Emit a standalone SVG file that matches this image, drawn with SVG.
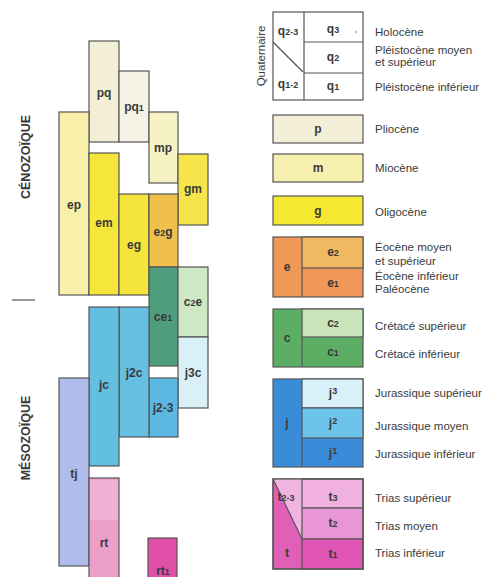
<svg xmlns="http://www.w3.org/2000/svg" width="491" height="577" viewBox="0 0 491 577">
<style>
.b{stroke:#555;stroke-width:1.2}
.l{font-family:"Liberation Sans",Arial,sans-serif;font-weight:bold;font-size:12px;fill:#3a3a3a;text-anchor:middle}
.s{font-size:9px}
.t{font-family:"Liberation Sans",Arial,sans-serif;font-size:11.5px;fill:#3a3a3a}
.era{font-family:"Liberation Sans",Arial,sans-serif;font-weight:bold;font-size:12.5px;fill:#3a3a3a;text-anchor:middle;dominant-baseline:central}
.ln{stroke:#555;stroke-width:1.2;fill:none}
</style>
<rect width="491" height="577" fill="#ffffff"/>
<text class="era" transform="translate(26,157) rotate(-90)">CÉNOZOÏQUE</text>
<text class="era" transform="translate(26,438) rotate(-90)">MÉSOZOÏQUE</text>
<line x1="12" y1="300" x2="35" y2="300" stroke="#777" stroke-width="1.5"/>
<g id="pq"><rect class="b" x="89" y="41" width="30" height="101" fill="#f2efd6"/><text class="l" x="104" y="97">pq</text></g>
<g id="pq1"><rect class="b" x="119" y="71" width="30" height="71" fill="#f5f3e6"/><text class="l" x="134" y="111">pq<tspan class="s">1</tspan></text></g>
<g id="mp"><rect class="b" x="149" y="112" width="29" height="71" fill="#f7f2c4"/><text class="l" x="163" y="152">mp</text></g>
<g id="ep"><rect class="b" x="59" y="112" width="30" height="183" fill="#f8f0aa"/><text class="l" x="74" y="209">ep</text></g>
<g id="em"><rect class="b" x="89" y="153" width="30" height="142" fill="#f6e53a"/><text class="l" x="104" y="227">em</text></g>
<g id="gm"><rect class="b" x="178" y="154" width="30" height="71" fill="#f5e54a"/><text class="l" x="193" y="193">gm</text></g>
<g id="eg"><rect class="b" x="119" y="194" width="30" height="101" fill="#f5e43c"/><text class="l" x="134" y="249">eg</text></g>
<g id="e2g"><rect class="b" x="149" y="194" width="29" height="73" fill="#f0c04c"/><text class="l" x="163" y="236">e<tspan class="s">2</tspan>g</text></g>
<g id="ce1"><rect class="b" x="149" y="267" width="29" height="99" fill="#4e9d7c"/><text class="l" x="163" y="321">ce<tspan class="s">1</tspan></text></g>
<g id="c2e"><rect class="b" x="178" y="267" width="30" height="70" fill="#cfe8c4"/><text class="l" x="193" y="306">c<tspan class="s">2</tspan>e</text></g>
<g id="j3c"><rect class="b" x="178" y="337" width="30" height="71" fill="#d8f0f6"/><text class="l" x="193" y="377">j3c</text></g>
<g id="j2-3"><rect class="b" x="149" y="378" width="29" height="59" fill="#5ab8e2"/><text class="l" x="163" y="412">j2-3</text></g>
<g id="j2c"><rect class="b" x="119" y="307" width="30" height="130" fill="#64bfe0"/><text class="l" x="134" y="377">j2c</text></g>
<g id="jc"><rect class="b" x="89" y="307" width="30" height="159" fill="#62bfe0"/><text class="l" x="104" y="389">jc</text></g>
<g id="tj"><rect class="b" x="59" y="378" width="30" height="188" fill="#b0bcec"/><text class="l" x="74" y="478">tj</text></g>
<g id="rt"><rect class="b" x="89" y="478" width="30" height="104" fill="#eba0cc"/><rect x="90" y="480" width="28" height="40" fill="#f0b8d8" opacity="0.7"/><text class="l" x="104" y="547">rt</text></g>
<g id="rt1"><rect class="b" x="148" y="538" width="29" height="44" fill="#e050a8"/><text class="l" x="163" y="575">rt<tspan class="s">1</tspan></text></g>

<g id="legend-q">
<rect class="b" x="273" y="12" width="90" height="88" fill="#ffffff"/>
<line class="ln" x1="304" y1="12" x2="304" y2="100"/>
<line class="ln" x1="304" y1="42" x2="363" y2="42"/>
<line class="ln" x1="304" y1="73" x2="363" y2="73"/>
<line class="ln" x1="273" y1="42" x2="303" y2="72"/>
<text class="l" x="288" y="35">q<tspan class="s">2-3</tspan></text>
<text class="l" x="288" y="88">q<tspan class="s">1-2</tspan></text>
<text class="l" x="333" y="33">q<tspan class="s">3</tspan></text>
<circle cx="356" cy="32" r="0.8" fill="#666"/>
<text class="l" x="333" y="61">q<tspan class="s">2</tspan></text>
<text class="l" x="333" y="90">q<tspan class="s">1</tspan></text>
<text class="t" text-anchor="middle" dominant-baseline="central" transform="translate(261,56) rotate(-90)">Quaternaire</text>
<text class="t" x="375" y="36">Holocène</text>
<text class="t" x="375" y="54">Pléistocène moyen</text>
<text class="t" x="375" y="66">et supérieur</text>
<text class="t" x="375" y="91">Pléistocène inférieur</text>
</g>
<g id="legend-p"><rect class="b" x="273" y="115" width="90" height="28" fill="#f4efd8"/><text class="l" x="318" y="133">p</text><text class="t" x="375" y="133">Pliocène</text></g>
<g id="legend-m"><rect class="b" x="273" y="154" width="90" height="28" fill="#f8f0b0"/><text class="l" x="318" y="172">m</text><text class="t" x="375" y="172">Miocène</text></g>
<g id="legend-g"><rect class="b" x="273" y="196" width="90" height="29" fill="#f6e830"/><text class="l" x="318" y="215">g</text><text class="t" x="375" y="216">Oligocène</text></g>
<g id="legend-e">
<rect class="b" x="273" y="237" width="90" height="60" fill="#f09858"/>
<rect class="b" x="302" y="237" width="61" height="31" fill="#f0b860"/>
<line class="ln" x1="302" y1="268" x2="302" y2="297"/>
<text class="l" x="287" y="271">e</text>
<text class="l" x="333" y="256">e<tspan class="s">2</tspan></text>
<text class="l" x="333" y="287">e<tspan class="s">1</tspan></text>
<text class="t" x="375" y="251">Éocène moyen</text>
<text class="t" x="375" y="265">et supérieur</text>
<text class="t" x="375" y="280">Éocène inférieur</text>
<text class="t" x="375" y="293">Paléocène</text>
</g>
<g id="legend-c">
<rect class="b" x="273" y="309" width="90" height="58" fill="#5cae64"/>
<rect class="b" x="302" y="309" width="61" height="28" fill="#c8e4b8"/>
<line class="ln" x1="302" y1="337" x2="302" y2="367"/>
<text class="l" x="287" y="342">c</text>
<text class="l" x="333" y="327">c<tspan class="s">2</tspan></text>
<text class="l" x="333" y="356">c<tspan class="s">1</tspan></text>
<text class="t" x="375" y="330">Crétacé supérieur</text>
<text class="t" x="375" y="358">Crétacé inférieur</text>
</g>
<g id="legend-j">
<rect class="b" x="273" y="379" width="90" height="88" fill="#3a8cd8"/>
<rect class="b" x="302" y="379" width="61" height="29" fill="#d8f0f8"/>
<rect class="b" x="302" y="408" width="61" height="30" fill="#6cc4ec"/>
<line class="ln" x1="302" y1="438" x2="302" y2="467"/>
<text class="l" x="287" y="427">j</text>
<text class="l" x="333" y="397">j<tspan class="s" dy="-3">3</tspan></text>
<text class="l" x="333" y="427">j<tspan class="s" dy="-3">2</tspan></text>
<text class="l" x="333" y="457">j<tspan class="s" dy="-3">1</tspan></text>
<text class="t" x="375" y="397">Jurassique supérieur</text>
<text class="t" x="375" y="430">Jurassique moyen</text>
<text class="t" x="375" y="458">Jurassique inférieur</text>
</g>
<g id="legend-t">
<rect class="b" x="273" y="479" width="90" height="90" fill="#e060b8"/>
<polygon points="273,479 302,479 302,539" fill="#f0b4e0"/>
<rect class="b" x="302" y="479" width="61" height="29" fill="#f0b0e0"/>
<rect class="b" x="302" y="508" width="61" height="31" fill="#e896d6"/>
<rect class="b" x="302" y="539" width="61" height="30" fill="#e055b4"/>
<rect class="b" x="273" y="479" width="90" height="90" fill="none"/>
<line class="ln" x1="273" y1="479" x2="302" y2="539"/>
<text class="l" x="286" y="501">t<tspan class="s">2-3</tspan></text>
<text class="l" x="287" y="557">t</text>
<text class="l" x="333" y="501">t<tspan class="s">3</tspan></text>
<text class="l" x="333" y="527">t<tspan class="s">2</tspan></text>
<text class="l" x="333" y="558">t<tspan class="s">1</tspan></text>
<text class="t" x="375" y="502">Trias supérieur</text>
<text class="t" x="375" y="530">Trias moyen</text>
<text class="t" x="375" y="557">Trias inférieur</text>
</g>
</svg>
